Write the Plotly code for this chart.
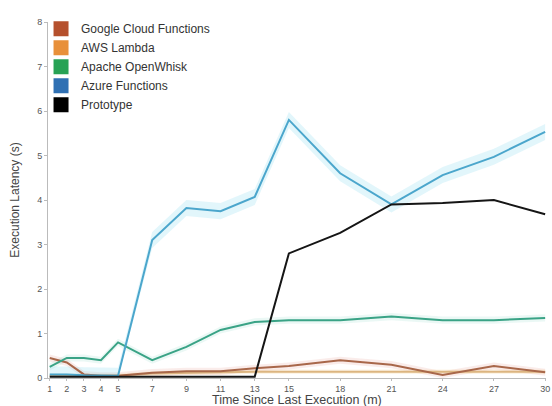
import plotly.graph_objects as go

minutes = [1, 2, 3, 4, 5, 7, 9, 11, 13, 15, 18, 21, 24, 27, 30]

google = [0.45, 0.35, 0.08, 0.05, 0.05, 0.12, 0.15, 0.15, 0.22, 0.27, 0.40, 0.30, 0.07, 0.27, 0.13]
aws = [0.05, 0.05, 0.05, 0.05, 0.05, 0.10, 0.12, 0.13, 0.14, 0.14, 0.14, 0.14, 0.14, 0.14, 0.14]
openwhisk = [0.25, 0.45, 0.45, 0.40, 0.80, 0.40, 0.70, 1.08, 1.26, 1.30, 1.30, 1.38, 1.30, 1.30, 1.35]
azure = [0.08, 0.08, 0.06, 0.06, 0.05, 3.10, 3.82, 3.75, 4.07, 5.80, 4.60, 3.90, 4.56, 4.97, 5.53]
prototype = [0.03, 0.03, 0.03, 0.03, 0.03, 0.03, 0.03, 0.03, 0.03, 2.80, 3.26, 3.90, 3.93, 4.00, 3.68]

names = ["Google Cloud Functions", "AWS Lambda", "Apache OpenWhisk", "Azure Functions", "Prototype"]
series = [google, aws, openwhisk, azure, prototype]
spread = [0.08, 0.05, 0.08, 0.18, 0.0]

line_colors = ["#a8674a", "#dcb580", "#3aa386", "#4ba6cc", "#151515"]
band_colors = ["rgba(230,150,140,0.18)", "rgba(245,200,120,0.18)", "rgba(120,210,190,0.15)",
               "rgba(140,220,240,0.25)", "rgba(0,0,0,0)"]
legend_colors = ["#b5502d", "#e8903a", "#27a255", "#2f70b3", "#000000"]

fig = go.Figure()

for vals, sp, bc in zip(series, spread, band_colors):
    if sp <= 0:
        continue
    upper = [v + sp for v in vals]
    lower = [max(v - sp, 0) for v in vals]
    fig.add_trace(go.Scatter(x=minutes, y=upper, mode="lines", line=dict(width=0),
                             showlegend=False, hoverinfo="skip"))
    fig.add_trace(go.Scatter(x=minutes, y=lower, mode="lines", line=dict(width=0),
                             fill="tonexty", fillcolor=bc, showlegend=False, hoverinfo="skip"))

order = [1, 0, 2, 3, 4]
for i in order:
    fig.add_trace(go.Scatter(x=minutes, y=series[i], mode="lines",
                             line=dict(color=line_colors[i], width=2),
                             showlegend=False, name=names[i]))

for i in range(5):
    fig.add_trace(go.Scatter(x=[None], y=[None], mode="markers", name=names[i],
                             marker=dict(symbol="square", size=15, color=legend_colors[i])))

fig.add_annotation(text="Time Since Last Execution (m)", xref="paper", yref="paper",
                   x=0.5, y=-0.062, xanchor="center", yanchor="middle", showarrow=False,
                   font=dict(size=12.5, color="#444"))

fig.update_layout(
    width=552, height=406,
    margin=dict(l=48, r=6, t=22, b=28),
    paper_bgcolor="white", plot_bgcolor="white",
    font=dict(family="Liberation Sans, Arial, sans-serif", size=10, color="#444"),
    showlegend=True,
    legend=dict(x=-0.014, y=1.022, xanchor="left", yanchor="top", bgcolor="rgba(255,255,255,0)",
                traceorder="normal", font=dict(size=12, color="#333"), tracegroupgap=0,
                itemsizing="trace", itemwidth=30),
    xaxis=dict(range=[0.9, 30.05], tickmode="array", tickvals=minutes, ticktext=[str(m) for m in minutes],
               automargin=False,
               showgrid=False, zeroline=False, showline=True, linecolor="#bbb", ticks="outside",
               ticklen=2, tickcolor="#bbb", tickfont=dict(size=9, color="#555")),
    yaxis=dict(range=[0, 8], tickmode="array", tickvals=list(range(9)), automargin=False,
               showgrid=False, zeroline=False, showline=True, linecolor="#bbb", ticks="outside",
               ticklen=3, tickcolor="#bbb", tickfont=dict(size=9, color="#555"),
               title=dict(text="Execution Latency (s)", font=dict(size=12, color="#444"), standoff=14)),
)

fig.write_html("out.html")
